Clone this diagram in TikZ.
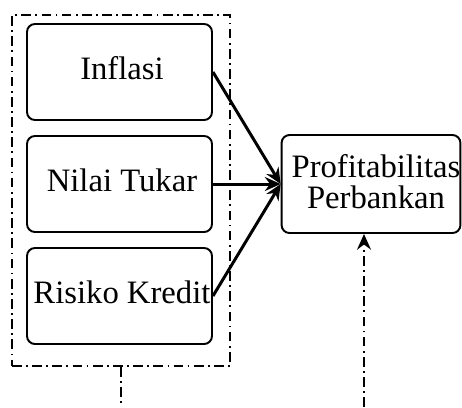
\documentclass[tikz,border=0pt]{standalone}
\usepackage{fontspec}
\setmainfont{Liberation Serif}
\usetikzlibrary{arrows.meta}

\begin{document}
\begin{tikzpicture}[x=0.02cm,y=-0.02cm,
    var/.style={draw,line width=1.1pt,rounded corners=4.5pt,minimum width=3.7cm,
                minimum height=1.92cm,inner xsep=0pt,text depth=0.45em,
                font=\fontsize{18.6}{18}\selectfont},
    group/.style={draw,line width=1.1pt,minimum width=4.36cm,minimum height=7.02cm,
                  dash pattern=on 5.5pt off 2.5pt on 1pt off 2.5pt},
    link/.style={-{Stealth[length=9pt,width=8pt,inset=3pt]},line width=1.7pt},
    control/.style={-{Stealth[length=9pt,width=8pt,inset=3pt]},line width=1.1pt,
                    dash pattern=on 5.5pt off 2.5pt on 1pt off 2.5pt}]
  \useasboundingbox (0,0) rectangle (462,407);

  \node[group] (grp) at (121,190.5) {};
  \node[var] (inflasi) at (119.5,72) {\hspace{0.1cm}Inflasi};
  \node[var] (nilai) at (119.5,184) {\hspace{0.1cm}Nilai Tukar};
  \node[var] (risiko) at (119.5,296) {\hspace{0.1cm}Risiko Kredit};

  \node[var,minimum width=3.56cm,minimum height=1.96cm,text depth=0.3em,align=center] (profit) at (371,184)
    {\hspace{0.2cm}Profitabilitas\\\hspace{0.2cm}Perbankan};

  \draw[link] (inflasi.east) -- (profit.west);
  \draw[link] (nilai.east) -- (profit.west);
  \draw[link] (risiko.east) -- (profit.west);

  % lines leaving the picture at the bottom
  \coordinate (grpend) at (121,407);
  \coordinate (ctrl) at (364,407);
  \draw[line width=1.1pt,dash pattern=on 5.5pt off 2.5pt on 1pt off 2.5pt] (grp.south) -- (grpend);
  \draw[control] (ctrl) -- (ctrl |- profit.south);
\end{tikzpicture}
\end{document}
